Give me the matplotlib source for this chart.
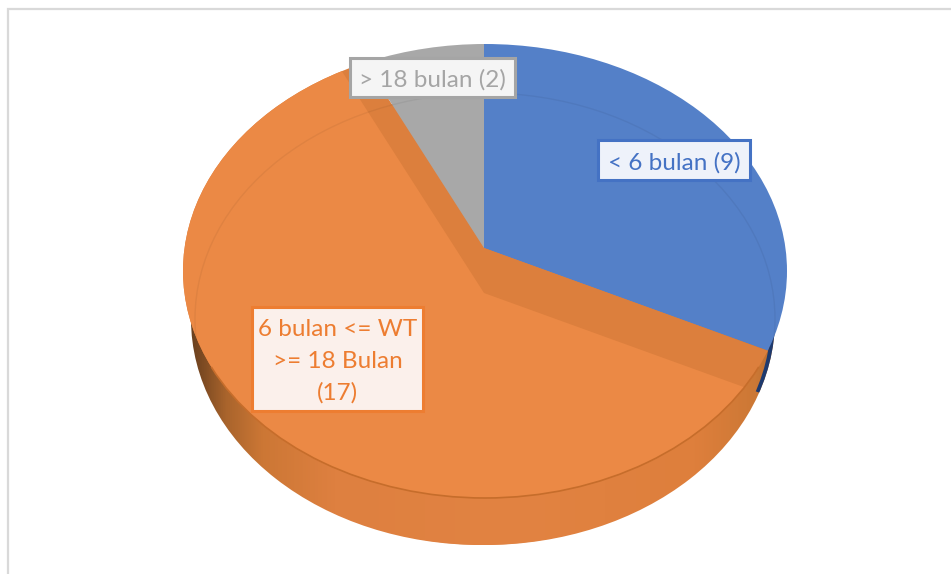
import matplotlib
matplotlib.use('Agg')
import matplotlib.pyplot as plt
import numpy as np
from matplotlib.colors import LinearSegmentedColormap
from matplotlib.patches import Arc, Ellipse, Rectangle

plt.rcParams['font.family'] = ['Lato', 'DejaVu Sans']

# data
labels = ['< 6 bulan (9)', '6 bulan <= WT\n>= 18 Bulan\n(17)', '> 18 bulan (2)']
values = [9, 17, 2]

# colours
blue = '#5480C8'
orange_top = '#EB8945'
orange_band = '#DC7F3D'
gray = '#A8A8A8'
dark_blue = '#1E3A6E'
text_colors = ['#4472C4', '#ED7D31', '#A5A5A5']
box_fills = ['#EEF2FA', '#FBF0EB', '#F5F5F5']

WIDTH, HEIGHT = 951, 574
SQUASH = 227 / 302


def Y(py):
    """Pixel row to data y, the y axis is stretched so the pie is elliptical."""
    return (HEIGHT - py) / SQUASH


fig = plt.figure(figsize=(WIDTH / 100, HEIGHT / 100), dpi=100)
ax = fig.add_axes([0, 0, 1, 1])


def ellipse(cx, py, rx, ry_px, **kw):
    return Ellipse((cx, Y(py)), 2 * rx, 2 * ry_px / SQUASH,
                   transform=ax.transData, **kw)


def clipped_pie(cx, py, colors, clip, zorder):
    wedges, _ = ax.pie(values, colors=colors, radius=700, center=(cx, Y(py)),
                       startangle=90, counterclock=False)
    for wedge, color in zip(wedges, colors):
        wedge.set_zorder(zorder)
        wedge.set_linewidth(0)
        wedge.set_clip_on(True)
        wedge.set_clip_path(clip)
        if color == 'none':
            wedge.set_visible(False)
    return wedges


def wall(cx, py, rx, ry_px, zorder):
    cmap = LinearSegmentedColormap.from_list('wall', [
        (0.0, '#5E3A1E'), (0.03, '#7C4A22'), (0.07, '#A9642C'),
        (0.13, '#CC7735'), (0.25, '#DE8040'), (0.55, '#E28342'),
        (0.85, '#DE7F3C'), (0.95, '#CC7835'), (1.0, '#A9642C')])
    grad = np.linspace(0, 1, 256).reshape(1, -1)
    im = ax.imshow(grad, cmap=cmap, aspect='auto', zorder=zorder,
                   extent=(183, 787, Y(574), Y(0)))
    im.set_clip_path(ellipse(cx, py, rx, ry_px))


# side wall of the pie
wall(485, 319, 290, 226, 1)
clipped_pie(484, 293, [dark_blue, 'none', 'none'], ellipse(485, 319, 290, 226), 2)
wall(481, 319, 290, 226, 3)

# top surface, vertex of the cut faces
clipped_pie(484, 248, [blue, orange_band, gray], ellipse(485, 271, 302, 227), 4)
clipped_pie(484, 293, ['none', orange_top, 'none'], ellipse(485, 271, 302, 227), 5)

# faint inner rim and front edge
inner = ellipse(485, 319, 290, 226, fill=False, edgecolor='#000000', alpha=0.05,
                linewidth=1, zorder=6)
ax.add_patch(inner)
inner.set_clip_path(ellipse(485, 271, 302, 227))
ax.add_patch(Arc((485, Y(271)), 604, 604, theta1=205, theta2=335,
                 color='#C66D2B', linewidth=1.2, zorder=6))

# chart frame, cut off by the image on the right and at the bottom
ax.add_patch(Rectangle((8, Y(590)), 980, (590 - 9) / SQUASH, fill=False,
                       edgecolor='#D9D9D9', linewidth=1.6, zorder=0))

# data labels
label_boxes = [(598, 140, 152, 40), (252, 307, 171, 104), (350, 58, 165, 39)]
for label, box, fc, color in zip(labels, label_boxes, box_fills, text_colors):
    x, y, w, h = box
    ax.add_patch(Rectangle((x + 2, Y(y + h + 2)), w, h / SQUASH, facecolor='#000000',
                           alpha=0.12, linewidth=0, zorder=7))
    ax.add_patch(Rectangle((x, Y(y + h)), w, h / SQUASH, facecolor=fc,
                           edgecolor=color, linewidth=2.2, zorder=8))
    ax.text(x + w / 2, Y(y + h / 2 + 2.5), label, color=color, fontsize=17.5,
            ha='center', va='center', linespacing=1.6, zorder=9)

ax.set_aspect('auto')
ax.set_xlim(0, WIDTH)
ax.set_ylim(Y(HEIGHT), Y(0))
ax.axis('off')

fig.savefig('out.png', dpi=100, facecolor='white')
